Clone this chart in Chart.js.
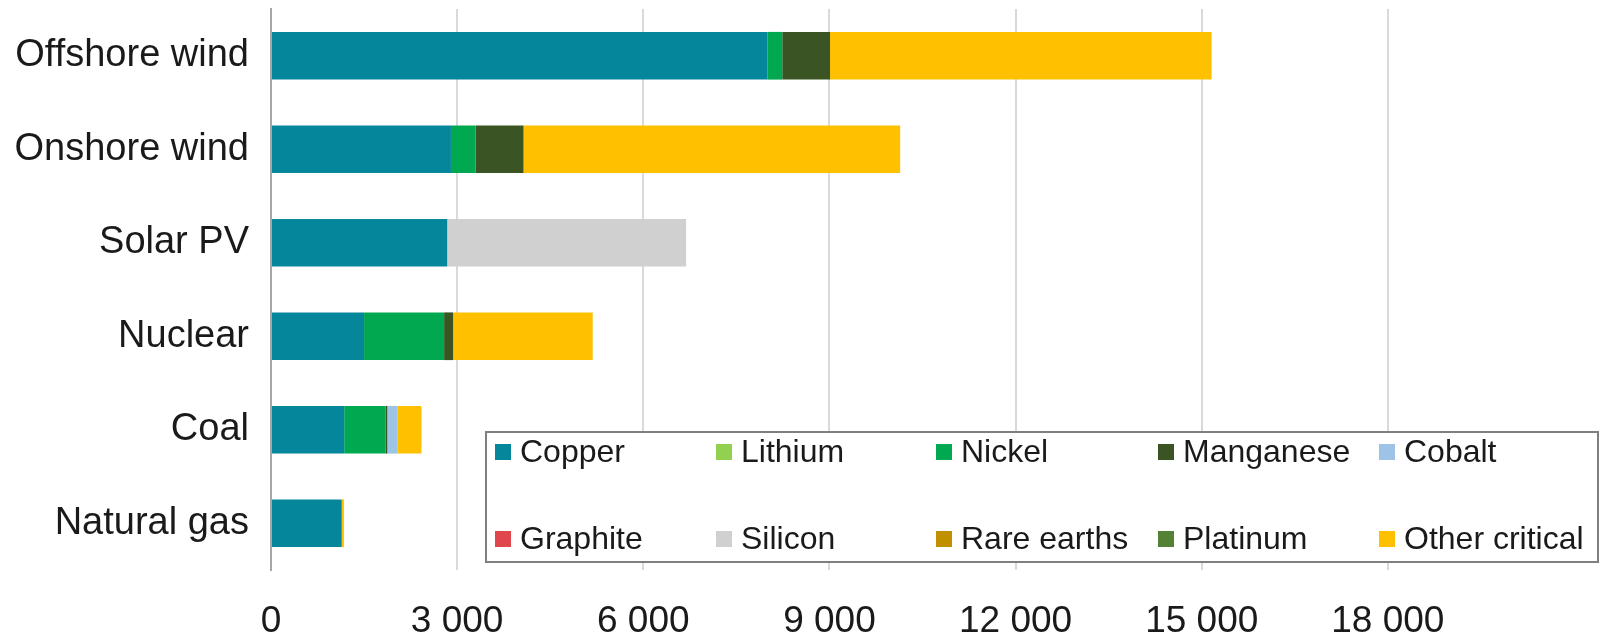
<!DOCTYPE html>
<html>
<head>
<meta charset="utf-8">
<script src="https://cdn.jsdelivr.net/npm/chart.js@4"></script>
<style>
  html, body { margin: 0; padding: 0; background: #ffffff; }
  #wrap { width: 1603px; height: 632px; }
</style>
</head>
<body>
<div id="wrap"><canvas id="c" width="1603" height="632"></canvas></div>
<script>
const categories = ['Offshore wind', 'Onshore wind', 'Solar PV', 'Nuclear', 'Coal', 'Natural gas'];
const copper     = [8000, 2900, 2840, 1500, 1180, 1140];
const lithium    = [0, 0, 0, 0, 0, 0];
const nickel     = [240, 400, 0, 1290, 670, 0];
const manganese  = [770, 770, 0, 145, 25, 0];
const cobalt     = [0, 0, 0, 0, 160, 0];
const graphite   = [0, 0, 0, 0, 0, 0];
const silicon    = [0, 0, 3850, 0, 0, 0];
const rareEarths = [0, 0, 0, 0, 0, 0];
const platinum   = [0, 0, 0, 0, 0, 0];
const otherCrit  = [6150, 6070, 0, 2250, 390, 35];
const xTickValues = [0, 3000, 6000, 9000, 12000, 15000, 18000];

const FONT = '"Liberation Sans", Arial, sans-serif';
const TEXT = '#1a1a1a';

const series = [
  { label: 'Copper', data: copper, color: '#05869b' },
  { label: 'Lithium', data: lithium, color: '#92d050' },
  { label: 'Nickel', data: nickel, color: '#00a84f' },
  { label: 'Manganese', data: manganese, color: '#3a5424' },
  { label: 'Cobalt', data: cobalt, color: '#9dc3e6' },
  { label: 'Graphite', data: graphite, color: '#e0474c' },
  { label: 'Silicon', data: silicon, color: '#d0d0d0' },
  { label: 'Rare earths', data: rareEarths, color: '#bf9000' },
  { label: 'Platinum', data: platinum, color: '#548235' },
  { label: 'Other critical', data: otherCrit, color: '#ffc000' }
];

const boxLegend = {
  id: 'boxLegend',
  afterDraw(chart) {
    const ctx = chart.ctx;
    const bx = 486, by = 432, bw = 1112, bh = 130;
    ctx.save();
    ctx.fillStyle = '#ffffff';
    ctx.fillRect(bx, by, bw, bh);
    ctx.strokeStyle = '#7f7f7f';
    ctx.lineWidth = 2;
    ctx.strokeRect(bx, by, bw, bh);
    const colX = [495, 716, 936, 1158, 1379];
    const rowY = [453, 540];
    ctx.font = '32px ' + FONT;
    ctx.textBaseline = 'middle';
    ctx.textAlign = 'left';
    chart.data.datasets.forEach((ds, i) => {
      const x = colX[i % 5];
      const y = rowY[Math.floor(i / 5)];
      ctx.fillStyle = ds.backgroundColor;
      ctx.fillRect(x, y - 9, 16, 16);
      ctx.fillStyle = TEXT;
      ctx.fillText(ds.label, x + 25, y);
    });
    ctx.restore();
  }
};

new Chart(document.getElementById('c'), {
  type: 'bar',
  data: {
    labels: categories,
    datasets: series.map(s => ({
      label: s.label,
      data: s.data,
      backgroundColor: s.color,
      borderWidth: 0,
      categoryPercentage: 1,
      barPercentage: 0.51
    }))
  },
  options: {
    indexAxis: 'y',
    responsive: false,
    devicePixelRatio: 1,
    animation: false,
    layout: { padding: { top: 9, right: 29, left: 0, bottom: 0 } },
    plugins: { legend: { display: false }, tooltip: { enabled: false } },
    scales: {
      x: {
        stacked: true,
        min: 0,
        max: 21000,
        afterBuildTicks(scale) { scale.ticks = xTickValues.map(v => ({ value: v })); },
        afterFit(scale) {
          scale.height = 62;
          scale.paddingLeft = 0; scale.paddingRight = 0;
        },
        grid: { color: '#d9d9d9', lineWidth: 2, drawTicks: false },
        border: { display: false },
        ticks: {
          padding: 30,
          color: TEXT,
          font: { family: FONT, size: 37 },
          maxRotation: 0,
          callback: v => String(v).replace(/\B(?=(\d{3})+(?!\d))/g, ' ')
        }
      },
      y: {
        stacked: true,
        afterFit(scale) {
          scale.width = 271;
          scale.paddingTop = 0; scale.paddingBottom = 0;
        },
        grid: { display: false, drawTicks: false },
        border: { display: true, color: '#a6a6a6', width: 2 },
        ticks: {
          padding: 22,
          color: TEXT,
          font: { family: FONT, size: 38 }
        }
      }
    }
  },
  plugins: [boxLegend]
});
</script>
</body>
</html>
